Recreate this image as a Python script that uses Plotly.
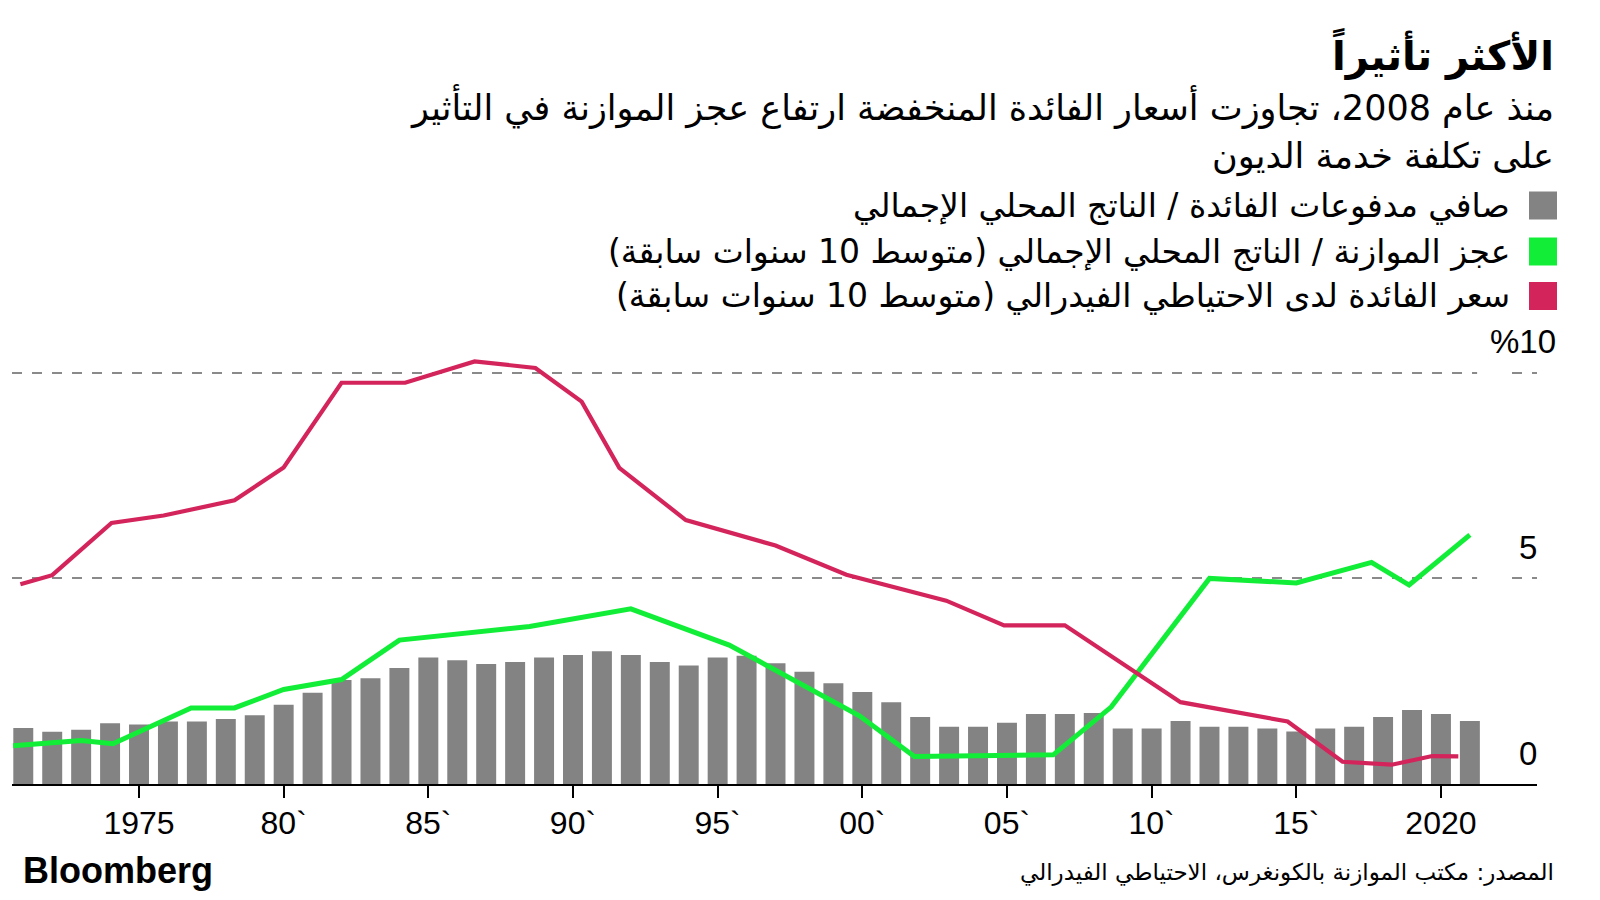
import plotly.graph_objects as go

# ---- data ----
bar_years = list(range(1971, 2022))
interest_gdp = [1.36, 1.27, 1.32, 1.48, 1.45, 1.52, 1.52, 1.58, 1.67, 1.93,
                2.22, 2.53, 2.57, 2.82, 3.08, 3.01, 2.92, 2.97, 3.08, 3.14,
                3.23, 3.14, 2.97, 2.88, 3.08, 3.12, 2.94, 2.73, 2.45, 2.24,
                1.99, 1.63, 1.39, 1.39, 1.49, 1.70, 1.70, 1.73, 1.35, 1.35,
                1.53, 1.39, 1.39, 1.35, 1.28, 1.35, 1.39, 1.63, 1.80, 1.70, 1.53]

deficit_x = [1970.65, 1973.0, 1974.1, 1976.8, 1978.3, 1980.0, 1982.0, 1984.0, 1988.5, 1992.0,
             1995.4, 1999.9, 2001.8, 2006.6, 2008.6, 2012.0, 2015.0, 2017.6, 2018.9, 2021.0]
deficit_y = [0.93, 1.06, 0.98, 1.85, 1.85, 2.30, 2.54, 3.50, 3.83, 4.26,
             3.38, 1.66, 0.67, 0.71, 1.87, 5.00, 4.89, 5.39, 4.84, 6.06]

fed_x = [1970.9, 1972.0, 1974.05, 1975.85, 1978.3, 1980.0, 1982.0, 1984.2, 1986.6, 1988.7,
         1990.3, 1991.6, 1993.9, 1997.0, 1999.45, 2002.9, 2004.9, 2007.0, 2011.0, 2014.7,
         2016.6, 2018.3, 2019.7, 2020.6]
fed_y = [4.86, 5.08, 6.35, 6.53, 6.90, 7.70, 9.76, 9.76, 10.28, 10.12,
         9.30, 7.69, 6.42, 5.80, 5.09, 4.46, 3.86, 3.86, 1.99, 1.52,
         0.54, 0.47, 0.68, 0.67]

x_tick_vals = [1975, 1980, 1985, 1990, 1995, 2000, 2005, 2010, 2015, 2020]
x_tick_text = ["1975", "80`", "85`", "90`", "95`", "00`", "05`", "10`", "15`", "2020"]
y_tick_vals = [0, 5, 10]
y_tick_text = ["0", "5", "%10"]

title = "الأكثر تأثيراً"
subtitle_1 = "منذ عام 2008، تجاوزت أسعار الفائدة المنخفضة ارتفاع عجز الموازنة في التأثير"
subtitle_2 = "على تكلفة خدمة الديون"
legend_names = ["صافي مدفوعات الفائدة / الناتج المحلي الإجمالي",
                "عجز الموازنة / الناتج المحلي الإجمالي (متوسط 10 سنوات سابقة)",
                "سعر الفائدة لدى الاحتياطي الفيدرالي (متوسط 10 سنوات سابقة)"]
source_text = "المصدر: مكتب الموازنة بالكونغرس، الاحتياطي الفيدرالي"

GRAY = "#838383"
GREEN = "#12ee38"
MAGENTA = "#d4245c"
AR_FONT = "DejaVu Sans"
NUM_FONT = "Liberation Sans, Arial, sans-serif"

fig = go.Figure()
fig.add_trace(go.Bar(x=bar_years, y=interest_gdp, marker_color=GRAY,
                     marker_line_width=0, name=legend_names[0], showlegend=False))
fig.add_trace(go.Scatter(x=deficit_x, y=deficit_y, mode="lines",
                         line=dict(color=GREEN, width=5), name=legend_names[1], showlegend=False))
fig.add_trace(go.Scatter(x=fed_x, y=fed_y, mode="lines",
                         line=dict(color=MAGENTA, width=4.2), name=legend_names[2], showlegend=False))

L, R, T, B = 12, 63, 340, 116
fig.update_layout(
    width=1600, height=900,
    margin=dict(l=L, r=R, t=T, b=B),
    paper_bgcolor="white", plot_bgcolor="white",
    bargap=0.31,
    xaxis=dict(range=[1970.61, 2023.32], showgrid=False, zeroline=False,
               showline=True, linecolor="black", linewidth=2,
               ticks="outside", ticklen=12, tickwidth=2, tickcolor="black",
               tickvals=x_tick_vals, ticktext=x_tick_text,
               tickfont=dict(family=NUM_FONT, size=32, color="black"),
               ticklabelstandoff=-2),
    yaxis=dict(range=[0, 10.8], showgrid=True, zeroline=False,
               tickvals=[5, 10], showticklabels=False,
               gridcolor="#8a8a8a", gridwidth=1.5, griddash="10px,10px"),
)

# white gap in gridlines near the right labels
fig.add_shape(type="rect", xref="x", yref="y", x0=2021.25, x1=2022.2, y0=4.5, y1=10.5,
              fillcolor="white", line_width=0, layer="between")

# y tick labels above gridlines
for v, t in zip(y_tick_vals, y_tick_text):
    fig.add_annotation(x=1, xref="paper", xanchor="right", xshift=21 if t.startswith("%") else 2,
                       y=v, yref="y", yanchor="middle", yshift=31,
                       text=t, showarrow=False,
                       font=dict(family=NUM_FONT, size=33, color="black"))


def px_to_paper_x(px):
    return (px - L) / (1600 - L - R)


def px_to_paper_y(py):
    return (900 - B - py) / (900 - T - B)


def text_ann(text, x_px, y_px, size, bold=False, family=AR_FONT, anchor="right"):
    fig.add_annotation(x=px_to_paper_x(x_px), y=px_to_paper_y(y_px), xref="paper", yref="paper",
                       xanchor=anchor, yanchor="middle", showarrow=False,
                       text=f"<b>{text}</b>" if bold else text,
                       font=dict(family=family, size=size, color="black"))


text_ann(title, 1556, 53, 40, bold=True)
text_ann(subtitle_1, 1556, 107, 35)
text_ann(subtitle_2, 1556, 156, 35)
for i, (name, col) in enumerate(zip(legend_names, [GRAY, GREEN, MAGENTA])):
    cy = [205.5, 251.5, 296][i]
    text_ann(name, 1512, cy, 33)
    fig.add_shape(type="rect", xref="paper", yref="paper",
                  x0=px_to_paper_x(1529), x1=px_to_paper_x(1557),
                  y0=px_to_paper_y(cy + 14), y1=px_to_paper_y(cy - 14),
                  fillcolor=col, line_width=0)
text_ann("Bloomberg", 21, 870, 36, bold=True, family=NUM_FONT, anchor="left")
text_ann(source_text, 1556, 872, 23)

fig.write_html("out.html", config={"displayModeBar": False},
               post_script="document.body.style.margin='0';")
